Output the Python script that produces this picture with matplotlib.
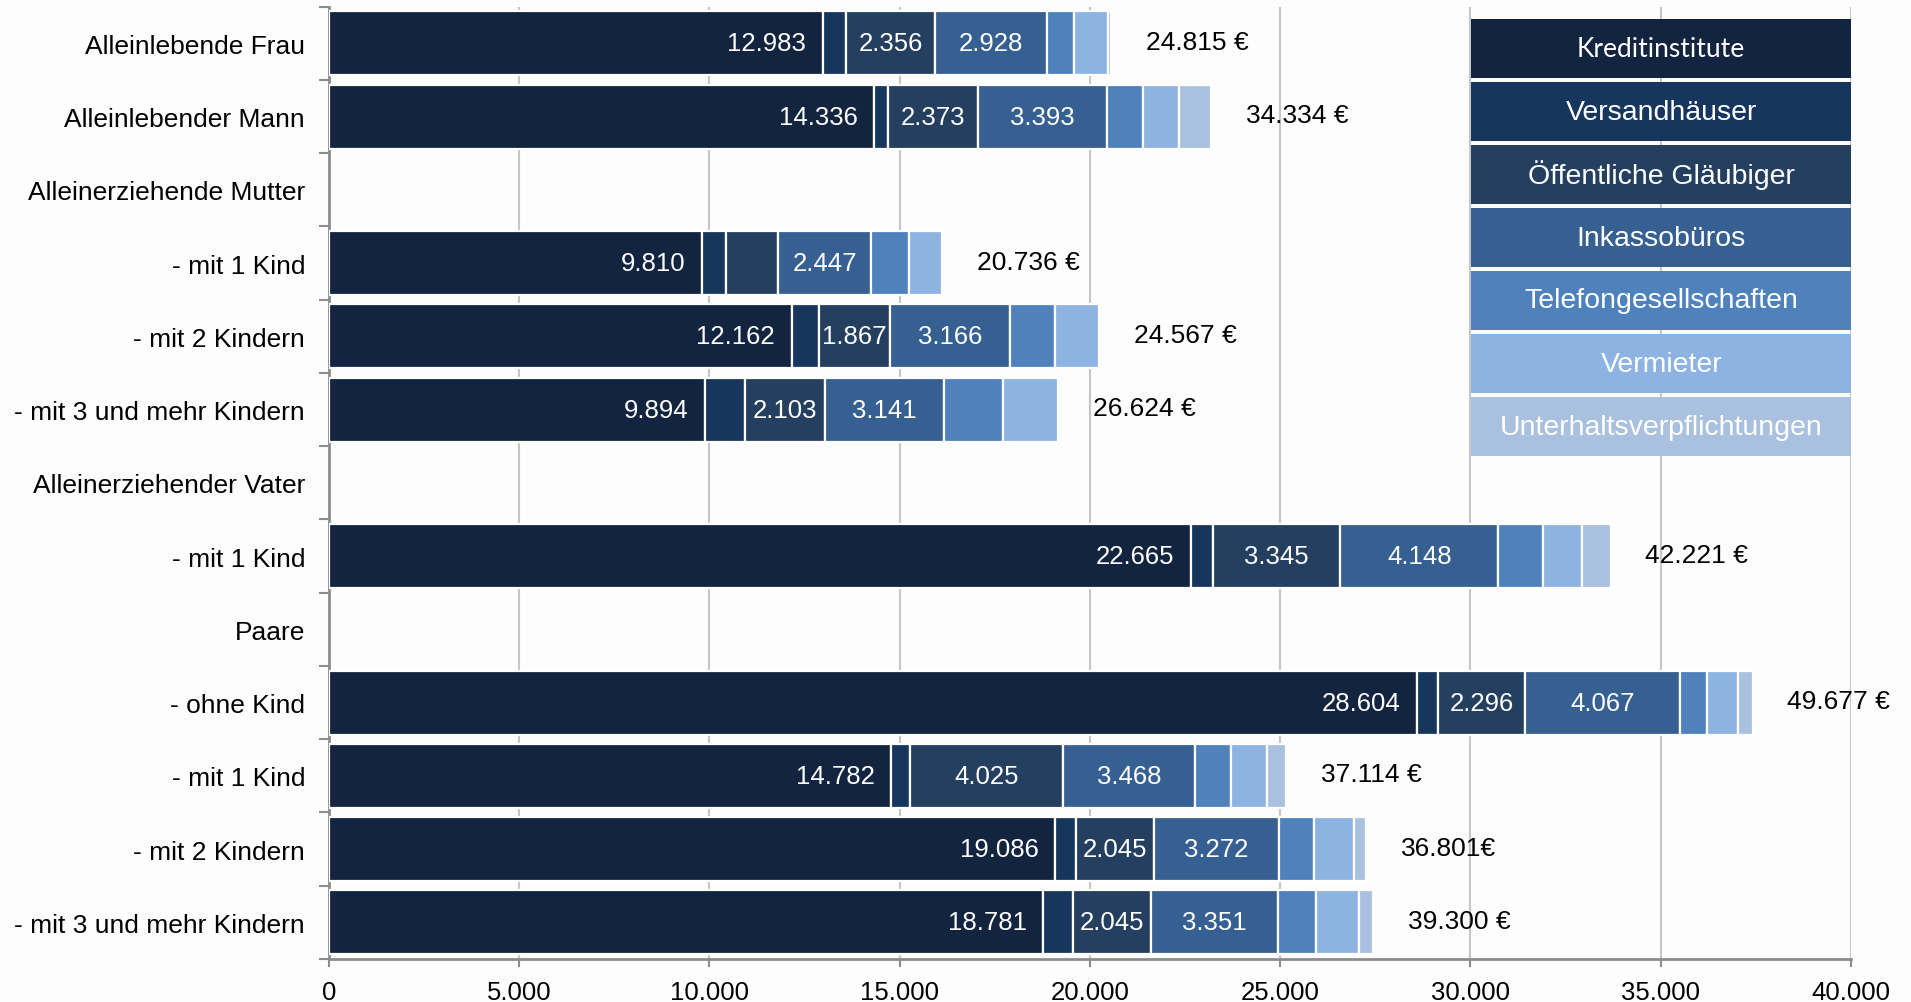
import numpy as np
import matplotlib
matplotlib.use("Agg")
import matplotlib.pyplot as plt
from matplotlib.patches import Rectangle
from matplotlib.ticker import FuncFormatter, FixedLocator

plt.rcParams["font.family"] = ["Liberation Sans", "DejaVu Sans"]

# rows, top to bottom (header rows have no bar)
categories = [
    "Alleinlebende Frau",
    "Alleinlebender Mann",
    "Alleinerziehende Mutter",
    "- mit 1 Kind",
    "- mit 2 Kindern",
    "- mit 3 und mehr Kindern",
    "Alleinerziehender Vater",
    "- mit 1 Kind",
    "Paare",
    "- ohne Kind",
    "- mit 1 Kind",
    "- mit 2 Kindern",
    "- mit 3 und mehr Kindern",
]

creditors = [
    "Kreditinstitute",
    "Versandhäuser",
    "Öffentliche Gläubiger",
    "Inkassobüros",
    "Telefongesellschaften",
    "Vermieter",
    "Unterhaltsverpflichtungen",
]

# euro per creditor group
kredit = [12983, 14336, 0, 9810, 12162, 9894, 0, 22665, 0, 28604, 14782, 19086, 18781]
versand = [600, 350, 0, 630, 720, 1040, 0, 570, 0, 540, 500, 560, 770]
oeffentlich = [2356, 2373, 0, 1370, 1867, 2103, 0, 3345, 0, 2296, 4025, 2045, 2045]
inkasso = [2928, 3393, 0, 2447, 3166, 3141, 0, 4148, 0, 4067, 3468, 3272, 3351]
telefon = [710, 950, 0, 990, 1160, 1550, 0, 1190, 0, 710, 930, 920, 1000]
vermieter = [900, 950, 0, 870, 1170, 1430, 0, 1010, 0, 820, 960, 1050, 1130]
unterhalt = [90, 840, 0, 0, 0, 0, 0, 760, 0, 380, 490, 330, 370]

# printed labels
kredit_labels = ["12.983", "14.336", "", "9.810", "12.162", "9.894", "", "22.665", "",
                 "28.604", "14.782", "19.086", "18.781"]
oeff_labels = ["2.356", "2.373", "", "", "1.867", "2.103", "", "3.345", "",
               "2.296", "4.025", "2.045", "2.045"]
inkasso_labels = ["2.928", "3.393", "", "2.447", "3.166", "3.141", "", "4.148", "",
                  "4.067", "3.468", "3.272", "3.351"]
total_labels = ["24.815 €", "34.334 €", "", "20.736 €", "24.567 €", "26.624 €", "",
                "42.221 €", "", "49.677 €", "37.114 €", "36.801€", "39.300 €"]

colors = ["#12243f", "#17365d", "#253f60", "#366092", "#4f81bd", "#8db3e2", "#aac0df"]

series = [kredit, versand, oeffentlich, inkasso, telefon, vermieter, unterhalt]

fig = plt.figure(figsize=(19.11, 10.03), dpi=100, facecolor="#fdfdfd")
ax = fig.add_axes([0.172, 0.0429, 0.7966, 0.9494], facecolor="#fdfdfd")

y = np.arange(len(categories))
left = np.zeros(len(categories))
for vals, col in zip(series, colors):
    vals = np.array(vals, dtype=float)
    m = vals > 0
    ax.barh(y[m], vals[m], left=left[m], height=0.875, color=col,
            edgecolor="white", linewidth=1.6, zorder=3)
    left += vals

fs = 18.5
# Kreditinstitute labels, right aligned inside
for i, t in enumerate(kredit_labels):
    if t:
        ax.annotate(t, xy=(kredit[i], i), xytext=(-12, 0), textcoords="offset points",
                    ha="right", va="center", color="white", fontsize=fs, zorder=5)
# Öffentliche Gläubiger and Inkasso labels, centred
start_oeff = np.array(kredit) + np.array(versand)
for i, t in enumerate(oeff_labels):
    if t:
        ax.text(start_oeff[i] + oeffentlich[i] / 2, i, t, ha="center", va="center",
                color="white", fontsize=fs, zorder=5)
start_ink = start_oeff + np.array(oeffentlich)
for i, t in enumerate(inkasso_labels):
    if t:
        ax.text(start_ink[i] + inkasso[i] / 2, i, t, ha="center", va="center",
                color="white", fontsize=fs, zorder=5)
# totals
for i, t in enumerate(total_labels):
    if t:
        ax.annotate(t, xy=(left[i], i), xytext=(25, 1), textcoords="offset points",
                    ha="left", va="center", color="black", fontsize=19, zorder=5)

ax.set_xlim(0, 40000)
ax.set_ylim(len(categories) - 0.5, -0.5)
ax.xaxis.set_major_locator(FixedLocator(np.arange(0, 40001, 5000)))
ax.xaxis.set_major_formatter(FuncFormatter(lambda v, p: f"{int(v):,}".replace(",", ".")))
ax.set_yticks(y)
ax.set_yticklabels(categories)
ax.yaxis.set_minor_locator(FixedLocator(np.arange(-0.5, len(categories), 1.0)))
ax.tick_params(axis="y", which="major", length=0, pad=17, labelsize=19)
ax.tick_params(axis="y", which="minor", length=7, width=1.5, color="#8c8c8c", direction="out")
ax.tick_params(axis="x", which="major", length=6, width=1.5, color="#8c8c8c", pad=9, labelsize=fs)

ax.grid(axis="x", color="#c6c6c6", linewidth=1.5, zorder=0)
ax.set_axisbelow(True)
for s in ["top", "right"]:
    ax.spines[s].set_visible(False)
for s in ["left", "bottom"]:
    ax.spines[s].set_color("#8c8c8c")
    ax.spines[s].set_linewidth(2)

# legend boxes with names inside
box_x0, box_x1 = 0.770, 0.9686
box_top, box_h, box_pitch = 1 - 20 / 1003, 59 / 1003, 63 / 1003
for k, (name, col) in enumerate(zip(creditors, colors)):
    yt = box_top - k * box_pitch
    fig.patches.append(Rectangle((box_x0, yt - box_h), box_x1 - box_x0, box_h,
                                 transform=fig.transFigure, facecolor=col,
                                 edgecolor="none", zorder=4))
    fam = ["Lato", "DejaVu Sans"] if k == 0 else ["Liberation Sans", "DejaVu Sans"]
    fig.text((box_x0 + box_x1) / 2, yt - box_h / 2, name, ha="center", va="center",
             color="white", fontsize=20.5 if k else 19, family=fam, zorder=5)

fig.savefig("out.png", dpi=100, facecolor=fig.get_facecolor())
